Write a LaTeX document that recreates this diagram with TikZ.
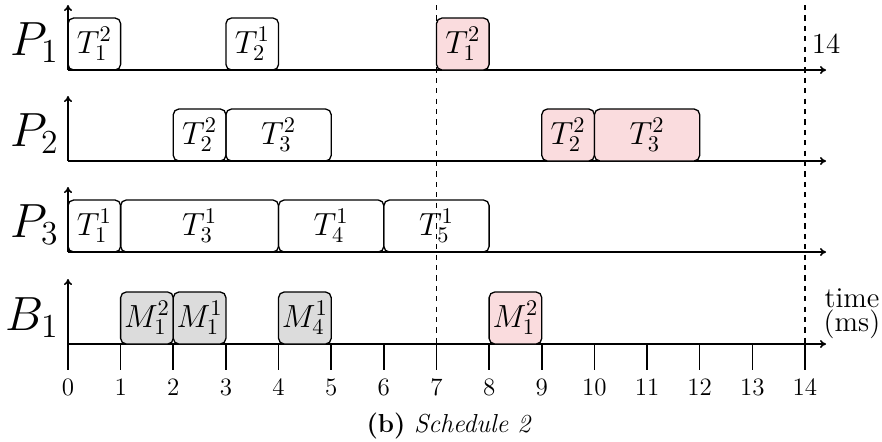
\RequirePackage{fix-cm}
\documentclass[tikz,border=0pt]{standalone}
\usetikzlibrary{arrows.meta,calc}
\definecolor{pinkf}{RGB}{250,220,222}
\definecolor{grayf}{RGB}{220,220,220}
\tikzset{
  axis/.style={line width=0.8pt, -{To[length=3pt,width=4pt]}},
  taskbox/.style={draw, line width=0.65pt, rounded corners=2.8pt},
  tasklab/.style={inner sep=0pt, font=\fontsize{16}{19}\selectfont},
  pinkbox/.style={fill=pinkf},
  graybox/.style={fill=grayf},
  plain/.style={},
  rowlabel/.style={font=\fontsize{24}{28}\selectfont, inner sep=0pt, anchor=base east},
  ticklab/.style={font=\fontsize{12.5}{15}\selectfont, inner sep=0pt},
  deadline/.style={line width=0.6pt, dash pattern=on 2.6pt off 2.6pt},
  tickline/.style={line width=0.8pt}
}
\newcommand\tsk[6]{%
  \coordinate (#1sw) at ({68+52.64*#3},#2);
  \coordinate (#1ne) at ({68+52.64*#4},{#2-52});
  \draw[taskbox,#5] (#1sw) rectangle (#1ne);
  \node[tasklab] (#1) at ($(#1sw)!0.5!(#1ne)$) {$#6$};}
\begin{document}
\begin{tikzpicture}[x=0.5pt,y=-0.5pt]
\useasboundingbox (0,0) rectangle (882,441);
% axes
\foreach \n/\y/\lab/\bl in {p1/70/P_1/55, p2/161/P_2/146, p3/252/P_3/237, b1/344/B_1/330} {
  \coordinate (o\n) at (68,\y);
  \coordinate (top\n) at (68,{\y-65});
  \coordinate (end\n) at (826,\y);
  \draw[axis] (o\n) -- (top\n);
  \draw[axis] (o\n) -- (end\n);
  \node[rowlabel] (l\n) at (59,\bl) {$\lab$};
}
% ticks
\foreach \t in {0,...,14} {
  \coordinate (ta\t) at ({68+52.64*\t},344);
  \coordinate (tb\t) at ({68+52.64*\t},370);
  \draw[tickline] (ta\t) -- (tb\t);
  \node[ticklab] (tl\t) at ({68+52.64*\t},387) {\t};
}
% P1
\tsk{a1}{70}{0}{1}{plain}{T^2_1}
\tsk{a2}{70}{3}{4}{plain}{T^1_2}
\tsk{a3}{70}{7}{8}{pinkbox}{T^2_1}
% P2
\tsk{b1}{161}{2}{3}{plain}{T^2_2}
\tsk{b2}{161}{3}{5}{plain}{T^2_3}
\tsk{b3}{161}{9}{10}{pinkbox}{T^2_2}
\tsk{b4}{161}{10}{12}{pinkbox}{T^2_3}
% P3
\tsk{c1}{252}{0}{1}{plain}{T^1_1}
\tsk{c2}{252}{1}{4}{plain}{T^1_3}
\tsk{c3}{252}{4}{6}{plain}{T^1_4}
\tsk{c4}{252}{6}{8}{plain}{T^1_5}
% B1
\tsk{d1}{344}{1}{2}{graybox}{M^2_1}
\tsk{d2}{344}{2}{3}{graybox}{M^1_1}
\tsk{d3}{344}{4}{5}{graybox}{M^1_4}
\tsk{d4}{344}{8}{9}{pinkbox}{M^2_1}
% deadlines
\coordinate (dl7a) at ({68+52.64*7},5);
\coordinate (dl7b) at ({68+52.64*7},344);
\coordinate (dl14a) at ({68+52.64*14},5);
\coordinate (dl14b) at ({68+52.64*14},344);
\draw[deadline] (dl7a) -- (dl7b);
\draw[deadline] (dl14a) -- (dl14b);
% labels
\node[font=\fontsize{14.5}{17}\selectfont, inner sep=0pt] (period) at (826,44) {14};
\node[font=\fontsize{14.4}{10.5}\selectfont, inner sep=0pt, align=center] (timelab) at (852,314)
  {time\\(ms)};
\node[font=\fontsize{13}{15}\selectfont, inner sep=0pt, anchor=base] (caption) at (449,432)
  {\textbf{(b)} \textit{Schedule 2}};
\end{tikzpicture}
\end{document}
